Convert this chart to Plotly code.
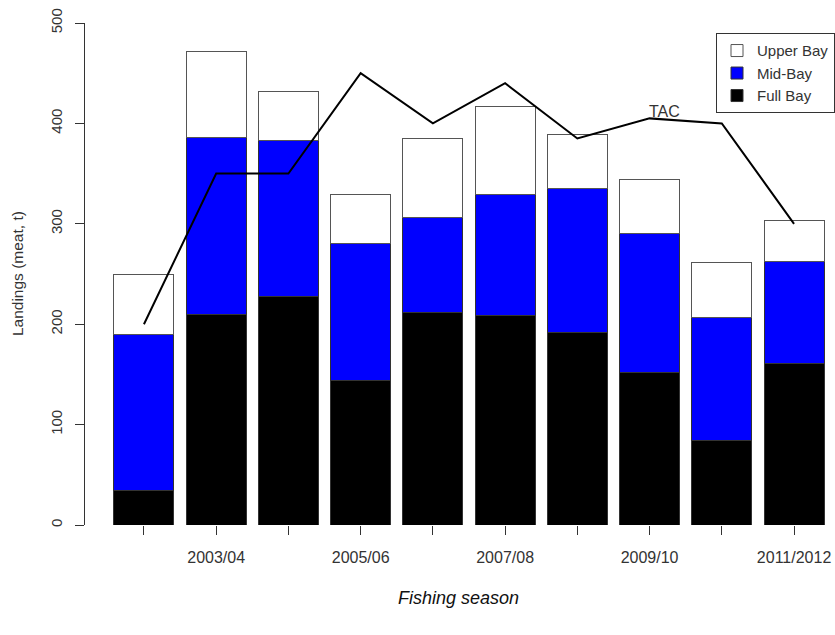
import plotly.graph_objects as go

# Scallop landings by fishing season, stacked by fishing area, with the TAC line
seasons = ["2002/03", "2003/04", "2004/05", "2005/06", "2006/07",
           "2007/08", "2008/09", "2009/10", "2010/11", "2011/2012"]
full_bay = [34, 210, 228, 144, 212, 209, 192, 152, 84, 161]
mid_bay = [156, 176, 155, 136, 94, 120, 143, 138, 123, 101]
upper_bay = [60, 86, 49, 49, 79, 88, 54, 54, 54, 41]
tac = [200, 350, 350, 450, 400, 440, 385, 405, 400, 300]
y_ticks = [0, 100, 200, 300, 400, 500]

pos = list(range(1, len(seasons) + 1))
# every other season label is shown along the bottom axis
shown_labels = [s if i % 2 == 1 else "" for i, s in enumerate(seasons)]

FONT = "Liberation Sans, Arial, sans-serif"
TXT = "#333333"

fig = go.Figure()
fig.add_trace(go.Bar(x=pos, y=full_bay, name="Full Bay", marker_color="#000000",
                     marker_line_color="#333333", marker_line_width=1, width=0.83))
fig.add_trace(go.Bar(x=pos, y=mid_bay, name="Mid-Bay", marker_color="#0000FF",
                     marker_line_color="#333333", marker_line_width=1, width=0.83))
fig.add_trace(go.Bar(x=pos, y=upper_bay, name="Upper Bay", marker_color="#FFFFFF",
                     marker_line_color="#555555", marker_line_width=1, width=0.83))
fig.add_trace(go.Scatter(x=pos, y=tac, mode="lines", showlegend=False,
                         line=dict(color="#000000", width=2)))

fig.add_annotation(x=8.2, y=412, text="TAC", showarrow=False,
                   font=dict(family=FONT, size=16, color=TXT))
fig.add_annotation(xref="paper", yref="paper", x=-0.0907, y=0.5,
                   xanchor="center", yanchor="middle",
                   text="Landings (meat, t)", textangle=-90, showarrow=False,
                   font=dict(family=FONT, size=15.5, color=TXT))
fig.add_annotation(xref="paper", yref="paper", x=0.499, y=-0.145,
                   xanchor="center", yanchor="middle",
                   text="<i>Fishing season</i>", showarrow=False,
                   font=dict(family=FONT, size=18, color="#111111"))

fig.update_layout(
    width=835, height=635,
    margin=dict(l=85, r=0, t=22.7, b=110),
    barmode="stack",
    plot_bgcolor="white", paper_bgcolor="white",
    font=dict(family=FONT, size=15, color=TXT),
    showlegend=True,
    legend=dict(x=0.843, y=0.9795, xanchor="left", yanchor="top",
                traceorder="reversed", bordercolor="#333333", borderwidth=1,
                bgcolor="white", font=dict(family=FONT, size=15, color=TXT)),
    xaxis=dict(range=[0.184, 10.553], tickvals=pos, ticktext=shown_labels,
               ticks="outside", ticklen=9, tickcolor="#333333", showline=False,
               showgrid=False, zeroline=False, ticklabelstandoff=9,
               tickfont=dict(family=FONT, size=16, color=TXT)),
    yaxis=dict(range=[0, 500], tickvals=y_ticks, ticks="outside", ticklen=9,
               tickcolor="#333333", showline=True, linecolor="#333333",
               showgrid=False, zeroline=False, tickangle=-90,
               ticklabelstandoff=7,
               tickfont=dict(family=FONT, size=15, color=TXT)),
)

fig.write_html("out.html")
